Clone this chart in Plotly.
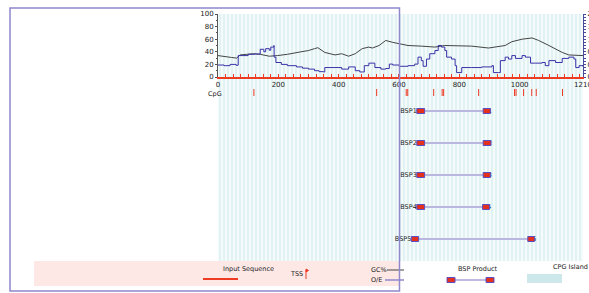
import plotly.graph_objects as go

W, H = 589, 293

# ---------------- data ----------------
seq_len = 1210
cpg_island = [0, 1210]

gc_pos = [0, 15, 28, 45, 62, 73, 95, 118, 140, 163, 170, 197, 230, 275, 300, 320, 331, 354,
          388, 410, 433, 455, 478, 500, 512, 534, 556, 579, 600, 630, 674, 719, 752, 786,
          841, 897, 930, 952, 974, 1008, 1041, 1063, 1097, 1141, 1163, 1197, 1210]
gc_pct = [34, 33, 31, 31, 30, 35, 36, 37, 36, 34, 33, 34, 36, 40, 42, 45, 46.5, 39,
          35, 37, 33, 37, 45, 47.5, 46, 50, 58, 55, 53, 50, 49, 47.5, 50, 50,
          49, 46, 48, 50, 56, 60, 62, 58, 50, 39, 35, 35, 34]

oe_pos = [0, 20, 40, 60, 66, 67, 100, 120, 135, 140, 152, 158, 170, 175, 185, 186, 192, 210,
          230, 260, 280, 300, 320, 335, 350, 354, 388, 410, 433, 455, 470, 478, 485, 500,
          520, 540, 556, 568, 579, 600, 630, 652, 663, 674, 680, 691, 702, 719, 730, 741,
          752, 758, 774, 786, 791, 808, 841, 874, 908, 913, 930, 936, 952, 963, 974, 986,
          1008, 1019, 1036, 1052, 1074, 1085, 1097, 1119, 1141, 1163, 1180, 1186, 1197, 1210]
oe_ratio = [0.38, 0.36, 0.40, 0.37, 0.38, 0.68, 0.72, 0.73, 0.73, 0.88, 0.80, 0.90, 0.85, 0.95, 1.0, 0.63, 0.46, 0.40,
            0.36, 0.32, 0.28, 0.25, 0.20, 0.17, 0.16, 0.30, 0.30, 0.25, 0.32, 0.20, 0.16, 0.16, 0.36, 0.44,
            0.30, 0.25, 0.27, 0.41, 0.38, 0.34, 0.36, 0.41, 0.63, 0.52, 0.34, 0.57, 0.74, 0.84, 1.0, 0.95,
            0.84, 0.63, 0.57, 0.36, 0.14, 0.30, 0.30, 0.32, 0.36, 0.14, 0.14, 0.52, 0.63, 0.57, 0.68, 0.59,
            0.68, 0.63, 0.44, 0.44, 0.46, 0.36, 0.52, 0.46, 0.59, 0.63, 0.57, 0.30, 0.36, 0.33]

cpg_sites = [119, 526, 624, 629, 715, 743, 748, 864, 983, 988, 1013, 1040, 1055, 1142]

primer_names = ["BSP1", "BSP2", "BSP3", "BSP4", "BSP5"]
rev_names = ["R1", "R2", "R3", "R4", "R5"]
fwd_start = [659, 659, 659, 659, 641]
fwd_end = [685, 685, 685, 685, 665]
rev_start = [879, 879, 879, 877, 1027]
rev_end = [903, 905, 903, 900, 1049]

x_ticks = [0, 200, 400, 600, 800, 1000, 1210]
gc_ticks = [0, 20, 40, 60, 80, 100]
oe_ticks = [0, 0.4, 0.8, 1.2, 1.6, 2.0]

# ---------------- layout helpers ----------------
def PX(x):
    return x / W

def PY(y):
    return 1 - y / H

FONT = "DejaVu Sans"
RED = "#ee3b24"
PURPLE = "#8f88cc"
BOXLINE = "#5b4fc4"
TXT = "#222222"

row_y = [97, 129, 161, 193, 225]   # px offsets from top of track area
cpg_y0, cpg_y1 = 75, 82

fig = go.Figure()

# CpG island (striped background)
fig.add_trace(go.Bar(
    x=[(cpg_island[0] + cpg_island[1]) / 2], y=[247], base=0,
    width=[cpg_island[1] - cpg_island[0]],
    xaxis="x", yaxis="y", showlegend=False, hoverinfo="skip",
    marker=dict(color="#f4fbfb", line_width=0,
                pattern=dict(shape="|", fgcolor="#c0e2e7", bgcolor="#f4fbfb",
                             size=4, solidity=0.35, fillmode="overlay")),
))

# CpG sites
cx, cy = [], []
for p in cpg_sites:
    cx += [p, p, None]
    cy += [cpg_y0, cpg_y1, None]
fig.add_trace(go.Scatter(x=cx, y=cy, mode="lines", xaxis="x", yaxis="y",
                         line=dict(color=RED, width=1), showlegend=False, hoverinfo="skip"))

# primer products
for i in range(len(primer_names)):
    r = row_y[i]
    fig.add_trace(go.Scatter(x=[fwd_end[i], rev_start[i]], y=[r, r], mode="lines",
                             xaxis="x", yaxis="y", line=dict(color="#a9a3d8", width=1.5),
                             showlegend=False, hoverinfo="skip"))
    fig.add_trace(go.Scatter(x=[fwd_start[i], rev_start[i]], y=[r, r], mode="text",
                             text=[primer_names[i], rev_names[i]],
                             textposition=["middle left", "middle right"],
                             textfont=dict(family=FONT, size=6.5, color=TXT),
                             xaxis="x", yaxis="y", showlegend=False, hoverinfo="skip"))
    for a, b in [(fwd_start[i], fwd_end[i]), (rev_start[i], rev_end[i])]:
        fig.add_trace(go.Scatter(x=[a, b, b, a, a], y=[r - 2.5, r - 2.5, r + 2.5, r + 2.5, r - 2.5],
                                 mode="lines", fill="toself", fillcolor="#e3301f",
                                 line=dict(color=BOXLINE, width=1),
                                 xaxis="x", yaxis="y", showlegend=False, hoverinfo="skip"))

# GC% and O/E
fig.add_trace(go.Scatter(x=gc_pos, y=gc_pct, mode="lines", xaxis="x2", yaxis="y2",
                         line=dict(color="#444444", width=1), showlegend=False))
fig.add_trace(go.Scatter(x=oe_pos, y=oe_ratio, mode="lines", xaxis="x2", yaxis="y3",
                         line=dict(color="#3a32a8", width=1, shape="hv"), showlegend=False))

xdom = [PX(218), PX(583)]
tickfont = dict(family=FONT, size=7, color=TXT)

fig.update_layout(
    width=W, height=H, autosize=False,
    margin=dict(l=0, r=0, t=0, b=0, pad=0),
    paper_bgcolor="white", plot_bgcolor="rgba(0,0,0,0)",
    barmode="overlay", bargap=0,
    xaxis=dict(domain=xdom, range=[0, seq_len], visible=False, anchor="y", automargin=False),
    yaxis=dict(domain=[PY(261), PY(14)], range=[247, 0], visible=False, anchor="x",
               automargin=False),
    xaxis2=dict(domain=xdom, range=[0, seq_len], anchor="y2", matches="x", automargin=False,
                showline=True, linecolor=RED, linewidth=1.5, showgrid=False, zeroline=False,
                tickvals=x_ticks, ticktext=[str(v) for v in x_ticks], ticks="inside",
                ticklen=3, tickcolor=RED, tickfont=tickfont, ticklabeloverflow="allow",
                minor=dict(dtick=25, ticks="inside", ticklen=3, tickcolor=RED)),
    yaxis2=dict(domain=[PY(77), PY(14)], range=[0, 100], anchor="x2", automargin=False,
                showline=True, linecolor="#555555", linewidth=1, showgrid=False, zeroline=False,
                tickvals=gc_ticks, ticks="outside", ticklen=2, tickcolor="#555555",
                tickfont=tickfont, ticklabelstandoff=0,
                minor=dict(dtick=10, ticks="outside", ticklen=1.5, tickcolor="#555555")),
    yaxis3=dict(range=[0, 2], overlaying="y2", side="right", anchor="x2", automargin=False,
                showline=True, linecolor="#4a4a9a", linewidth=1, showgrid=False, zeroline=False,
                tickvals=oe_ticks, ticktext=["0", "0.4", "0.8", "1.2", "1.6", "2"],
                ticks="outside", ticklen=2, tickcolor="#4a4a9a", tickfont=tickfont,
                ticklabelstandoff=0, ticklabeloverflow="allow",
                minor=dict(dtick=0.1, ticks="outside", ticklen=1.5, tickcolor="#4a4a9a")),
)

shapes = []
# legend band
shapes.append(dict(type="rect", xref="paper", yref="paper", x0=PX(34), x1=PX(399),
                   y0=PY(286), y1=PY(261), fillcolor="#fde8e6", line_width=0, layer="below"))
# Input sequence line
shapes.append(dict(type="line", xref="paper", yref="paper", x0=PX(203), x1=PX(238),
                   y0=PY(279), y1=PY(279), line=dict(color=RED, width=2)))
# TSS marker
shapes.append(dict(type="line", xref="paper", yref="paper", x0=PX(306), x1=PX(306),
                   y0=PY(279), y1=PY(270), line=dict(color=RED, width=1)))
shapes.append(dict(type="path", xref="paper", yref="paper",
                   path=f"M {PX(306)} {PY(269)} L {PX(308.5)} {PY(270.5)} L {PX(306)} {PY(272)} Z",
                   fillcolor=RED, line=dict(color=RED, width=1)))
# GC% / O/E legend lines
shapes.append(dict(type="line", xref="paper", yref="paper", x0=PX(387), x1=PX(404),
                   y0=PY(270), y1=PY(270), line=dict(color="#444444", width=1)))
shapes.append(dict(type="line", xref="paper", yref="paper", x0=PX(385), x1=PX(404),
                   y0=PY(280), y1=PY(280), line=dict(color=PURPLE, width=1.5)))
# BSP product legend
shapes.append(dict(type="line", xref="paper", yref="paper", x0=PX(455), x1=PX(486),
                   y0=PY(280), y1=PY(280), line=dict(color="#a9a3d8", width=1.5)))
for a, b in [(447, 455), (486, 494)]:
    shapes.append(dict(type="rect", xref="paper", yref="paper", x0=PX(a), x1=PX(b),
                       y0=PY(282.5), y1=PY(277.5), fillcolor="#e3301f",
                       line=dict(color=BOXLINE, width=1)))
# CpG island legend
shapes.append(dict(type="rect", xref="paper", yref="paper", x0=PX(527), x1=PX(562),
                   y0=PY(283), y1=PY(274), fillcolor="#cde8ea", line_width=0))
# purple frame
shapes.append(dict(type="rect", xref="paper", yref="paper", x0=PX(10), x1=PX(399.5),
                   y0=PY(291), y1=PY(8), line=dict(color=PURPLE, width=1.5),
                   fillcolor="rgba(0,0,0,0)", layer="above"))
fig.update_layout(shapes=shapes)

lfont = dict(family=FONT, size=6.5, color=TXT)
ann = [
    ("CpG", 224, 94, "right"),
    ("Input Sequence", 248, 269, "center"),
    ("TSS", 305, 274, "right"),
    ("GC%", 389, 270, "right"),
    ("O/E", 384, 280, "right"),
    ("BSP Product", 478, 269, "center"),
    ("CPG Island", 570, 267, "center"),
]
annotations = []
for t, x, y, anc in ann:
    annotations.append(dict(text=t, xref="paper", yref="paper", x=PX(x), y=PY(y),
                            xanchor=anc, yanchor="middle", showarrow=False, font=lfont))
fig.update_layout(annotations=annotations)

fig.write_html("out.html", config={"displayModeBar": False},
               post_script="document.body.style.margin='0';"
                           "document.documentElement.style.overflow='hidden';")
